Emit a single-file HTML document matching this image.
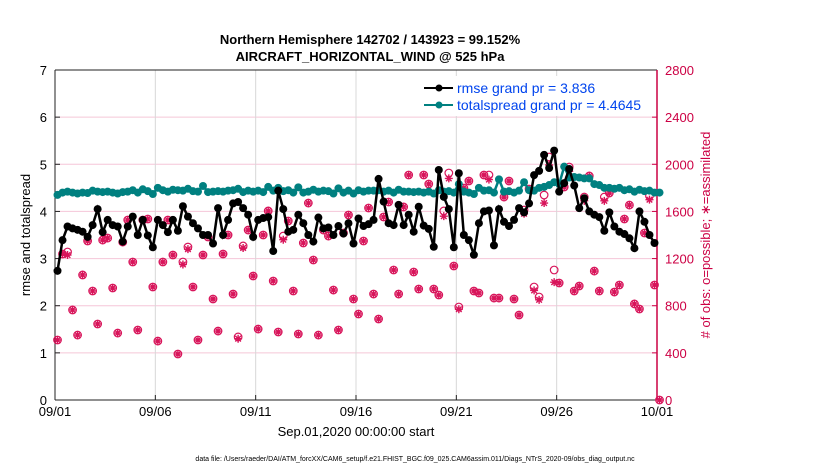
<!DOCTYPE html>
<html><head><meta charset="utf-8"><style>
body{margin:0;background:#fff;}
svg{display:block;font-family:"Liberation Sans",Arial,sans-serif;}
</style></head><body>
<svg id="chart" width="830" height="470">
<text x="370" y="44" text-anchor="middle" font-size="13" font-weight="bold">Northern Hemisphere 142702 / 143923 = 99.152%</text>
<text x="370" y="61" text-anchor="middle" font-size="13" font-weight="bold">AIRCRAFT_HORIZONTAL_WIND @ 525 hPa</text>
<g id="grid"></g>
<g id="axes"></g>
<g id="obs"></g>
<g id="lines"></g>
<text x="356" y="436" text-anchor="middle" font-size="13">Sep.01,2020 00:00:00 start</text>
<text transform="translate(30,235) rotate(-90)" text-anchor="middle" font-size="13">rmse and totalspread</text>
<text transform="translate(710,235) rotate(-90)" text-anchor="middle" font-size="13" fill="#cc0044"># of obs: o=possible; ∗=assimilated</text>
<text x="415" y="461" text-anchor="middle" font-size="7">data file: /Users/raeder/DAI/ATM_forcXX/CAM6_setup/f.e21.FHIST_BGC.f09_025.CAM6assim.011/Diags_NTrS_2020-09/obs_diag_output.nc</text>
<g>
<rect x="418" y="76" width="238" height="40" fill="#fff"/>
<line x1="424" y1="88" x2="453" y2="88" stroke="#000" stroke-width="2"/><circle cx="439" cy="88" r="3.5" fill="#000"/>
<text x="457" y="93" font-size="14" fill="#0044ee">rmse grand pr = 3.836</text>
<line x1="424" y1="105" x2="453" y2="105" stroke="#008080" stroke-width="2"/><circle cx="439" cy="105" r="3.5" fill="#008080"/>
<text x="457" y="110" font-size="14" fill="#0044ee">totalspread grand pr = 4.4645</text>
</g>
</svg>
<script>
const rmse=[2.74,3.39,3.68,3.64,3.61,3.57,3.46,3.71,4.05,3.56,3.82,3.71,3.68,3.36,3.68,3.89,3.50,3.82,3.49,3.24,3.82,3.71,3.56,3.82,3.59,4.11,3.89,3.75,3.64,3.50,3.50,3.32,4.07,3.50,3.82,4.17,4.20,4.07,3.93,3.46,3.82,3.86,3.88,3.16,4.44,4.05,3.57,3.61,3.93,3.75,3.50,3.36,3.87,3.64,3.66,3.50,3.69,3.53,3.75,3.32,3.85,3.69,3.73,3.82,4.69,4.21,3.75,3.71,4.14,3.71,3.93,3.57,4.10,3.70,3.63,3.25,4.88,4.31,4.05,3.24,4.81,3.50,3.39,3.08,3.75,4.00,4.02,3.28,4.05,3.78,3.69,3.82,4.07,3.98,4.17,4.77,4.86,5.20,4.92,5.29,4.42,4.60,4.90,4.55,4.07,4.28,4.00,3.93,3.88,3.59,3.98,3.68,3.57,3.52,3.43,3.22,4.00,3.78,3.50,3.33];
const spread=[4.35,4.40,4.42,4.40,4.38,4.40,4.39,4.44,4.42,4.41,4.42,4.40,4.38,4.41,4.42,4.45,4.40,4.47,4.43,4.37,4.50,4.45,4.42,4.46,4.45,4.44,4.48,4.43,4.42,4.54,4.41,4.42,4.43,4.42,4.44,4.45,4.48,4.41,4.44,4.42,4.44,4.41,4.52,4.44,4.50,4.43,4.45,4.40,4.51,4.40,4.42,4.46,4.42,4.44,4.43,4.38,4.49,4.40,4.44,4.38,4.45,4.42,4.44,4.44,4.45,4.42,4.44,4.40,4.46,4.42,4.42,4.41,4.42,4.40,4.42,4.38,4.45,4.42,4.43,4.40,4.58,4.42,4.40,4.37,4.50,4.44,4.45,4.40,4.68,4.42,4.43,4.40,4.44,4.62,4.45,4.44,4.50,4.52,4.56,4.62,4.58,4.95,4.72,4.73,4.72,4.70,4.70,4.58,4.56,4.50,4.50,4.48,4.50,4.45,4.47,4.42,4.46,4.43,4.44,4.40,4.40];
const obsPossible=[509,1239,1256,764,551,1061,1349,925,645,1357,1374,950,568,1340,1527,1171,594,1527,1536,959,500,1171,1527,1230,390,1171,1298,959,509,1230,1383,857,585,1239,1400,899,535,1307,1442,1052,602,1400,1604,1010,577,1391,1519,925,560,1332,1671,1188,551,1442,1391,933,594,1417,1570,857,730,1349,1629,899,687,1553,1680,1103,899,1638,1909,1086,942,1909,1833,942,891,1604,1926,1137,789,1799,1858,925,908,1909,1909,865,865,1722,1858,857,721,1612,1790,959,874,1739,2062,1103,993,1807,1977,925,967,1722,1901,1094,925,1722,1756,916,976,1536,1654,815,772,1417,1731,976,0];
const obsAssim=[509,1239,1230,764,551,1061,1349,925,645,1357,1374,950,568,1340,1527,1171,594,1527,1536,959,500,1171,1527,1230,390,1150,1280,959,509,1230,1383,857,585,1239,1400,899,520,1290,1442,1052,602,1400,1604,1010,577,1360,1519,925,560,1332,1671,1188,551,1442,1391,933,594,1417,1570,857,730,1349,1629,899,687,1553,1680,1103,899,1638,1909,1086,942,1909,1833,942,891,1560,1880,1137,770,1799,1858,925,908,1909,1870,865,865,1722,1858,857,721,1580,1790,930,850,1671,1994,1000,993,1807,1940,925,967,1690,1901,1094,925,1690,1756,916,976,1536,1654,815,772,1417,1700,976,0];
const xTicks=["09/01","09/06","09/11","09/16","09/21","09/26","10/01"];
const yLeftTicks=[0,1,2,3,4,5,6,7];
const yRightTicks=[0,400,800,1200,1600,2000,2400,2800];
const X0=55,X1=657,Y0=400,Y1=70,DAYS=30;
const xs=d=>X0+d/DAYS*(X1-X0);
const yl=v=>Y0-v/7*(Y0-Y1);
const yr=v=>Y0-v/2800*(Y0-Y1);
const xi=i=>xs(i*0.25+0.125);
const NS="http://www.w3.org/2000/svg";
function mk(p,t,a){const e=document.createElementNS(NS,t);for(const k in a)e.setAttribute(k,a[k]);p.appendChild(e);return e;}
const grid=document.getElementById('grid'),axes=document.getElementById('axes'),obs=document.getElementById('obs'),lines=document.getElementById('lines');
mk(grid,'rect',{x:X0,y:Y1,width:X1-X0,height:Y0-Y1,fill:'#fff'});
yLeftTicks.forEach(v=>{if(v>0&&v<7){const g=mk(grid,'line',{x1:X0,x2:X1,y1:yl(v),y2:yl(v),stroke:'#f5c6d8','stroke-width':1});

}});
xTicks.forEach((t,i)=>{const x=xs(i*5);
if(i>0&&i<6){const g=mk(grid,'line',{x1:x,x2:x,y1:Y1,y2:Y0,stroke:'#d8d8d8','stroke-width':1});

}
mk(axes,'line',{x1:x,x2:x,y1:Y0,y2:Y0-5,stroke:'#222'});
const tx=mk(axes,'text',{x:x,y:Y0+16,'text-anchor':'middle','font-size':13});tx.textContent=t;

});
yLeftTicks.forEach(v=>{mk(axes,'line',{x1:X0,x2:X0+5,y1:yl(v),y2:yl(v),stroke:'#222'});
const tx=mk(axes,'text',{x:X0-8,y:yl(v)+5,'text-anchor':'end','font-size':13});tx.textContent=v;

});
yRightTicks.forEach(v=>{mk(axes,'line',{x1:X1,x2:X1-5,y1:yr(v),y2:yr(v),stroke:'#cc0044'});
const tx=mk(axes,'text',{x:X1+8,y:yr(v)+5,'font-size':13,fill:'#cc0044'});tx.textContent=v;

});
mk(axes,'line',{x1:X0,x2:X0,y1:Y1,y2:Y0,stroke:'#222'});
mk(axes,'line',{x1:X0,x2:X1,y1:Y0,y2:Y0,stroke:'#222'});
mk(axes,'line',{x1:X0,x2:X1,y1:Y1,y2:Y1,stroke:'#222'});
mk(axes,'line',{x1:X1,x2:X1,y1:Y1,y2:Y0,stroke:'#cc0044','stroke-width':1.5});
const C='#d8145a';
obsPossible.forEach((v,i)=>{const c=mk(obs,'circle',{cx:xi(i),cy:yr(v),r:3.8,fill:'none',stroke:C,'stroke-width':1.2});

});
obsAssim.forEach((v,i)=>{const x=xi(i),y=yr(v),r=4;
const d=`M${x-r},${y}H${x+r}M${x},${y-r}V${y+r}M${x-r*0.7},${y-r*0.7}L${x+r*0.7},${y+r*0.7}M${x-r*0.7},${y+r*0.7}L${x+r*0.7},${y-r*0.7}`;
const p=mk(obs,'path',{d:d,stroke:C,'stroke-width':1.4,fill:'none'});

});
function series(arr,col,name){
const p=mk(lines,'polyline',{points:arr.map((v,i)=>xi(i)+','+yl(v)).join(' '),fill:'none',stroke:col,'stroke-width':2.5});


arr.forEach((v,i)=>{const c=mk(lines,'circle',{cx:xi(i),cy:yl(v),r:4,fill:col});

});}
series(spread,'#008080','spread');
series(rmse,'#000','rmse');
</script>
</body></html>
